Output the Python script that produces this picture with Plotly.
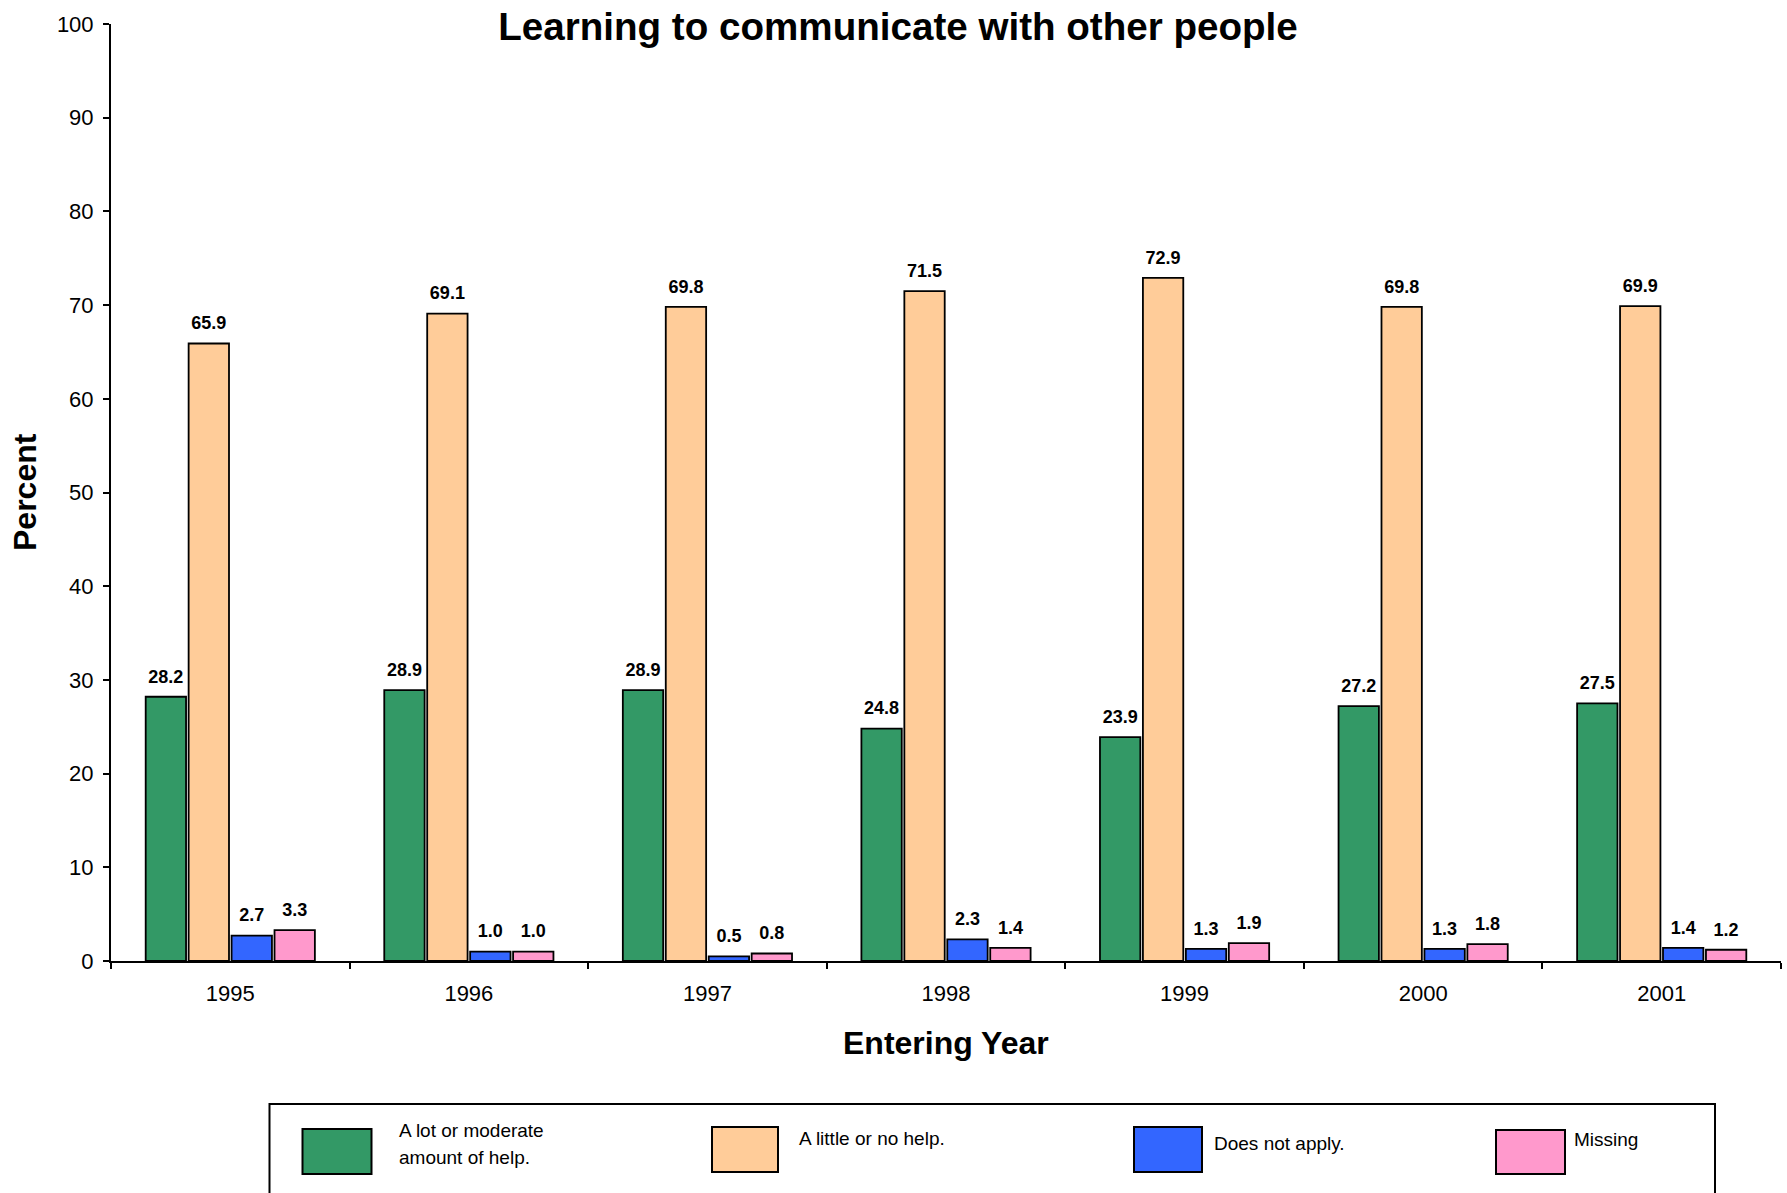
import plotly.graph_objects as go

# ---- data ----
years = ["1995", "1996", "1997", "1998", "1999", "2000", "2001"]
lot_help = [28.2, 28.9, 28.9, 24.8, 23.9, 27.2, 27.5]
little_help = [65.9, 69.1, 69.8, 71.5, 72.9, 69.8, 69.9]
not_apply = [2.7, 1.0, 0.5, 2.3, 1.3, 1.3, 1.4]
missing = [3.3, 1.0, 0.8, 1.4, 1.9, 1.8, 1.2]

series_names = ["A lot or moderate<br>amount of help.", "A little or no help.",
                "Does not apply.", "Missing"]
series_values = [lot_help, little_help, not_apply, missing]
colors = ["#339966", "#FFCC99", "#3366FF", "#FF99CC"]

# body margin is removed via post_script, so figure pixels == page pixels
W, H = 1787, 1193
ML, MR, MT, MB = 111, 6, 24, 232
PW, PH = W - ML - MR, H - MT - MB
FONT = "Liberation Sans, Arial, sans-serif"


def px_x(x):
    return (x - ML) / PW


def px_y(y):
    return (H - MB - y) / PH


fig = go.Figure()
for i, (name, vals, col) in enumerate(zip(series_names, series_values, colors)):
    fig.add_trace(go.Bar(
        x=years, y=vals, name=name, offsetgroup=str(i),
        marker=dict(color=col, line=dict(color="black", width=1.8)),
        hoverinfo="skip", showlegend=False,
    ))
for i, vals in enumerate(series_values):
    fig.add_trace(go.Scatter(
        x=years, y=vals, offsetgroup=str(i), mode="markers+text",
        marker=dict(size=14, color="rgba(0,0,0,0)"),
        text=[f"{v:.1f}" for v in vals], textposition="top center",
        textfont=dict(family=FONT, size=18, color="black", weight="bold"),
        hoverinfo="skip", showlegend=False, cliponaxis=False,
    ))

# ---- manual legend ----
shapes = []
annotations = []
shapes.append(dict(type="rect", xref="paper", yref="paper",
                   x0=px_x(269.5), x1=px_x(1715), y0=px_y(1104), y1=px_y(1215),
                   line=dict(color="black", width=2), fillcolor="rgba(0,0,0,0)"))
legend_items = [
    (302.5, 371.5, 1129, 1174, 397, [("A lot or moderate", 1130), ("amount of help.", 1157)]),
    (712, 778, 1127, 1172, 797, [("A little or no help.", 1138)]),
    (1134, 1202, 1127, 1172, 1212, [("Does not apply.", 1143)]),
    (1496, 1565, 1130, 1174, 1572, [("Missing", 1139)]),
]
for (x0, x1, y0, y1, tx, lines), col in zip(legend_items, colors):
    shapes.append(dict(type="rect", xref="paper", yref="paper",
                       x0=px_x(x0), x1=px_x(x1), y0=px_y(y0), y1=px_y(y1),
                       line=dict(color="black", width=2), fillcolor=col))
    for txt, ty in lines:
        annotations.append(dict(xref="paper", yref="paper", x=px_x(tx), y=px_y(ty),
                                text=txt, showarrow=False, xanchor="left", yanchor="middle",
                                font=dict(family=FONT, size=19, color="black")))

# axis titles
annotations.append(dict(xref="paper", yref="paper", x=px_x(25), y=px_y(492),
                        text="<b>Percent</b>", textangle=-90, showarrow=False,
                        xanchor="center", yanchor="middle",
                        font=dict(family=FONT, size=32, color="black")))
annotations.append(dict(xref="paper", yref="paper", x=px_x(946), y=px_y(1043),
                        text="<b>Entering Year</b>", showarrow=False,
                        xanchor="center", yanchor="middle",
                        font=dict(family=FONT, size=32, color="black")))

fig.update_layout(
    width=W, height=H,
    margin=dict(l=ML, r=MR, t=MT, b=MB, pad=0),
    paper_bgcolor="white", plot_bgcolor="white",
    barmode="group", bargap=0.28, bargroupgap=0.06,
    scattermode="group", scattergap=0.28,
    title=dict(text="<b>Learning to communicate with other people</b>",
               x=898 / W, xanchor="center", xref="container",
               y=1 - 26 / H, yanchor="middle", yref="container",
               font=dict(family=FONT, size=38.6, color="black")),
    font=dict(family=FONT, color="black"),
    xaxis=dict(type="category", showline=True, linecolor="black", linewidth=2,
               ticks="outside", tickson="boundaries", ticklen=6, tickwidth=2,
               tickcolor="black", showgrid=False, zeroline=False,
               tickfont=dict(family=FONT, size=22, color="black"),
               ticklabelstandoff=12),
    yaxis=dict(range=[0, 100], dtick=10, showline=True, linecolor="black", linewidth=2,
               ticks="outside", ticklen=6, tickwidth=2, tickcolor="black",
               showgrid=False, zeroline=False,
               tickfont=dict(family=FONT, size=22, color="black"),
               ticklabelstandoff=5),
    shapes=shapes, annotations=annotations,
    showlegend=False,
)

fig.write_html("out.html", config={"displayModeBar": False},
               post_script="document.body.style.margin='0';")
